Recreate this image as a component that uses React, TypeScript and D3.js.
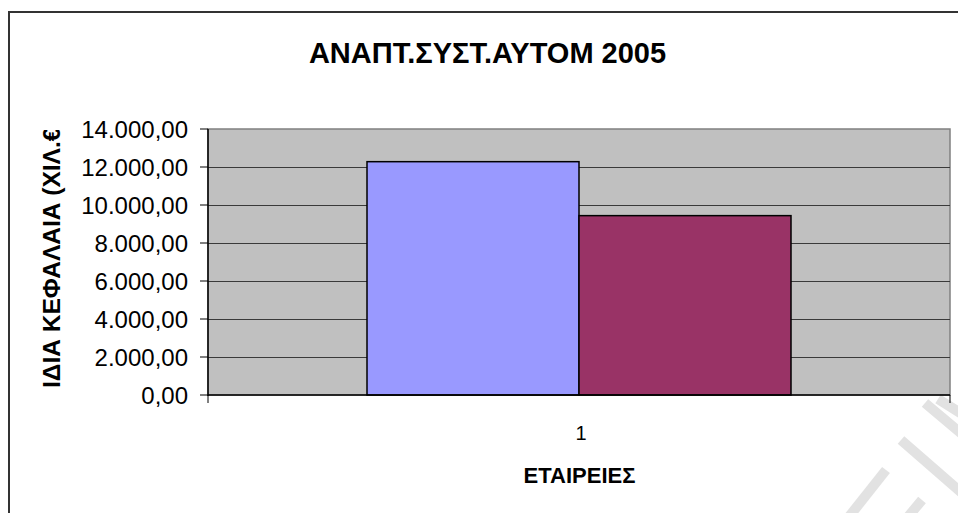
import React from "react";
import * as d3 from "d3";

const categories = ["1"];
const seriesNames = ["Σειρά1", "Σειρά2"];
const seriesValues = [12280, 9440];
const seriesColors = ["#9999ff", "#993366"];
const yTicks = [0, 2000, 4000, 6000, 8000, 10000, 12000, 14000];
const title = "ΑΝΑΠΤ.ΣΥΣΤ.ΑΥΤΟΜ 2005";
const yTitle = "ΙΔΙΑ ΚΕΦΑΛΑΙΑ (ΧΙΛ.€)";
const xTitle = "ΕΤΑΙΡΕΙΕΣ";

const W = 958;
const H = 513;
const plot = { left: 208, right: 950, top: 129, bottom: 395 };
const FONT = "'Liberation Sans', Arial, sans-serif";

const locale = d3.formatLocale({
  decimal: ",",
  thousands: ".",
  grouping: [3],
  currency: ["", "€"],
});
const fmt = locale.format(",.2f");

export default function App() {
  const y = d3.scaleLinear().domain([0, 14000]).range([plot.bottom, plot.top]);
  const x = d3
    .scaleBand<string>()
    .domain(categories)
    .range([plot.left, plot.right])
    .paddingInner(0)
    .paddingOuter(0);
  const bw = x.bandwidth();
  const barW = bw / (seriesNames.length + 1.5);
  const inner = d3
    .scaleBand<string>()
    .domain(seriesNames)
    .range([barW * 0.75, barW * 0.75 + barW * seriesNames.length])
    .padding(0);

  const waterBands: [number, number, number, number][] = [
    [925, 403, 962, 434],
    [938, 399, 962, 414],
    [901, 440, 962, 493],
    [886, 470, 848, 518],
    [922, 500, 907, 518],
  ];

  return (
    <svg
      width={W}
      height={H}
      style={{ position: "absolute", left: 0, top: 0, background: "#fff" }}
      fontFamily={FONT}
    >
      <defs>
        <clipPath id="ylabclip">
          <rect x={0} y={130} width={120} height={300} />
        </clipPath>
      </defs>
      <rect x={0} y={0} width={W} height={H} fill="#fff" />
      {/* watermark strokes */}
      {waterBands.map((b, i) => (
        <line
          key={i}
          x1={b[0]}
          y1={b[1]}
          x2={b[2]}
          y2={b[3]}
          stroke="#e2e2e2"
          strokeWidth={10}
        />
      ))}
      {/* outer frame */}
      <rect
        x={9}
        y={12}
        width={W + 20}
        height={H + 20}
        fill="none"
        stroke="#333"
        strokeWidth={2}
      />
      {/* plot area */}
      <rect
        x={plot.left}
        y={plot.top}
        width={plot.right - plot.left}
        height={plot.bottom - plot.top}
        fill="#c0c0c0"
        stroke="#808080"
        strokeWidth={1.5}
      />
      {/* gridlines */}
      {yTicks
        .filter((t) => t > 0 && t < 14000)
        .map((t) => (
          <line
            key={t}
            x1={plot.left}
            x2={plot.right}
            y1={Math.round(y(t)) + 0.5}
            y2={Math.round(y(t)) + 0.5}
            stroke="#3a3a3a"
            strokeWidth={1}
          />
        ))}
      {/* bars */}
      {categories.map((c) => (
        <g key={c} transform={`translate(${x(c)},0)`}>
          {seriesNames.map((s, i) => (
            <rect
              key={s}
              x={inner(s)}
              y={y(seriesValues[i])}
              width={inner.bandwidth()}
              height={y(0) - y(seriesValues[i])}
              fill={seriesColors[i]}
              stroke="#000"
              strokeWidth={1.5}
            />
          ))}
        </g>
      ))}
      {/* axes */}
      <line
        x1={plot.left}
        x2={plot.left}
        y1={plot.top}
        y2={plot.bottom + 1}
        stroke="#000"
        strokeWidth={1.5}
      />
      <line
        x1={plot.left}
        x2={plot.right}
        y1={plot.bottom}
        y2={plot.bottom}
        stroke="#000"
        strokeWidth={1.5}
      />
      {yTicks.map((t) => (
        <g key={t}>
          <line
            x1={plot.left - 8}
            x2={plot.left}
            y1={y(t)}
            y2={y(t)}
            stroke="#000"
            strokeWidth={1}
          />
          <text
            x={188}
            y={y(t)}
            dy="0.36em"
            textAnchor="end"
            fontSize={24}
            fill="#000"
          >
            {fmt(t)}
          </text>
        </g>
      ))}
      {[plot.left, plot.right].map((px) => (
        <line
          key={px}
          x1={px}
          x2={px}
          y1={plot.bottom}
          y2={plot.bottom + 8}
          stroke="#000"
          strokeWidth={1}
        />
      ))}
      {categories.map((c) => (
        <text
          key={c}
          x={(x(c) as number) + bw / 2 + 2}
          y={440}
          textAnchor="middle"
          fontSize={20}
          fill="#000"
        >
          {c}
        </text>
      ))}
      {/* titles */}
      <text
        x={487.5}
        y={63}
        textAnchor="middle"
        fontSize={29}
        fontWeight="bold"
        fill="#000"
      >
        {title}
      </text>
      <text
        x={579.5}
        y={483}
        textAnchor="middle"
        fontSize={22}
        fontWeight="bold"
        fill="#000"
      >
        {xTitle}
      </text>
      <g clipPath="url(#ylabclip)">
        <text
          transform={`translate(60,388) rotate(-90)`}
          textAnchor="start"
          fontSize={24.5}
          fontWeight="bold"
          fill="#000"
        >
          {yTitle}
        </text>
      </g>
    </svg>
  );
}
